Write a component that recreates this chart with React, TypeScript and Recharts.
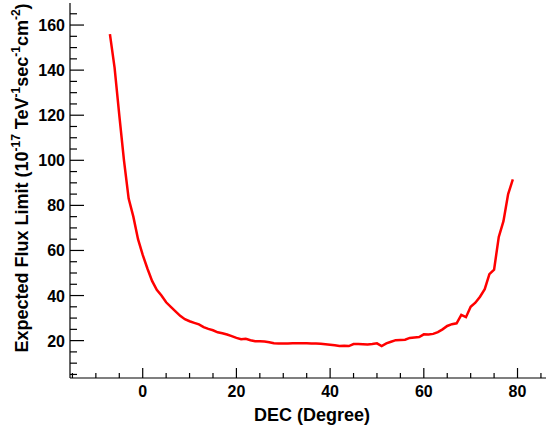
import { LineChart, Line, XAxis, YAxis } from "recharts";

// declination in degrees, expected flux limit (1e-17 TeV^-1 s^-1 cm^-2)
const dec = [
  -7, -6, -5, -4, -3, -2, -1, 0, 1, 2, 3, 4, 5, 6, 7, 8, 9, 10, 11, 12, 13, 14, 15, 16, 17, 18, 19, 20,
  21, 22, 23, 24, 25, 26, 27, 28, 29, 30, 31, 32, 33, 34, 35, 36, 37, 38, 39, 40, 41, 42, 43, 44, 45,
  46, 47, 48, 49, 50, 51, 52, 53, 54, 55, 56, 57, 58, 59, 60, 61, 62, 63, 64, 65, 66, 67, 68, 69, 70,
  71, 72, 73, 74, 75, 76, 77, 78, 79,
];
const flux = [
  156, 141, 120, 100, 83, 75, 65, 58, 52, 46.5, 42.5, 40, 37, 35, 33, 31, 29.5, 28.6, 27.9, 27.2, 26,
  25.2, 24.6, 23.7, 23.3, 22.7, 22, 21.2, 20.6, 20.8, 20.2, 19.7, 19.7, 19.6, 19.3, 18.8, 18.7, 18.7,
  18.7, 18.8, 18.8, 18.8, 18.8, 18.7, 18.7, 18.6, 18.4, 18.2, 17.9, 17.6, 17.7, 17.6, 18.5, 18.5, 18.4,
  18.3, 18.5, 18.8, 17.6, 18.8, 19.5, 20.2, 20.3, 20.4, 21.2, 21.4, 21.6, 22.8, 22.7, 23, 23.8, 25,
  26.5, 27.3, 27.7, 31.4, 30.4, 35, 36.8, 39.5, 42.8, 49.5, 51.5, 66, 73, 85, 91.5,
];

const xTicks = [-15, -10, -5, 0, 5, 10, 15, 20, 25, 30, 35, 40, 45, 50, 55, 60, 65, 70, 75, 80, 85];
const yTicks = [5, 10, 15, 20, 25, 30, 35, 40, 45, 50, 55, 60, 65, 70, 75, 80, 85, 90, 95, 100, 105, 110, 115, 120, 125, 130, 135, 140, 145, 150, 155, 160, 165];

const data = dec.map((d, i) => ({ dec: d, flux: flux[i] }));

const font = "'Liberation Sans', Arial, sans-serif";

function XTick(props: any) {
  const { x, y, payload } = props;
  const v = payload.value;
  const major = v % 20 === 0;
  return (
    <g>
      <line x1={x} x2={x} y1={y} y2={y - (major ? 10 : 5)} stroke="#000" strokeWidth={1.2} />
      {major && (
        <text x={x} y={y + 19} textAnchor="middle" fontFamily={font} fontWeight="bold" fontSize={16} fill="#000">
          {v}
        </text>
      )}
    </g>
  );
}

function YTick(props: any) {
  const { x, y, payload } = props;
  const v = payload.value;
  const major = v % 20 === 0;
  return (
    <g>
      <line x1={x} x2={x + (major ? 14 : 7)} y1={y} y2={y} stroke="#000" strokeWidth={1.2} />
      {major && (
        <text x={x - 5} y={y + 6} textAnchor="end" fontFamily={font} fontWeight="bold" fontSize={16} fill="#000">
          {v}
        </text>
      )}
    </g>
  );
}

function YLabel() {
  return (
    <text
      transform="translate(28,178) rotate(-90)"
      textAnchor="middle"
      fontFamily={font}
      fontWeight="bold"
      fontSize={18}
      fill="#000"
    >
      <tspan>Expected Flux Limit (10</tspan>
      <tspan fontSize={12} dy={-8}>-17</tspan>
      <tspan dy={8}> TeV</tspan>
      <tspan fontSize={12} dy={-8}>-1</tspan>
      <tspan dy={8}>sec</tspan>
      <tspan fontSize={12} dy={-8}>-1</tspan>
      <tspan dy={8}>cm</tspan>
      <tspan fontSize={12} dy={-8}>-2</tspan>
      <tspan dy={8}>)</tspan>
    </text>
  );
}

export default function App() {
  return (
    <div style={{ position: "absolute", left: 0, top: 0, width: 546, height: 430, background: "#fff" }}>
      <LineChart width={546} height={430} data={data} margin={{ top: 3, right: 0, left: 10, bottom: 22 }}>
        <XAxis
          dataKey="dec"
          type="number"
          domain={[-15.52, 86.08]}
          allowDataOverflow
          ticks={xTicks}
          interval={0}
          height={30}
          tickSize={0}
          tickMargin={0}
          tickLine={false}
          axisLine={{ stroke: "#000", strokeWidth: 1.2 }}
          tick={<XTick />}
          label={{
            content: () => (
              <text x={312} y={421} textAnchor="middle" fontFamily={font} fontWeight="bold" fontSize={18} fill="#000">
                DEC (Degree)
              </text>
            ),
          }}
        />
        <XAxis
          xAxisId="top"
          orientation="top"
          dataKey="dec"
          type="number"
          domain={[-15.52, 86.08]}
          height={0}
          tick={false}
          tickLine={false}
          axisLine={{ stroke: "#000", strokeWidth: 1.2 }}
        />
        <YAxis
          type="number"
          domain={[3.42, 169.78]}
          allowDataOverflow
          ticks={yTicks}
          interval={0}
          width={60}
          tickSize={0}
          tickMargin={0}
          tickLine={false}
          axisLine={{ stroke: "#000", strokeWidth: 1.2 }}
          tick={<YTick />}
          label={{ content: () => <YLabel /> }}
        />
        <Line
          type="linear"
          dataKey="flux"
          stroke="#ff0000"
          strokeWidth={2.5}
          dot={false}
          isAnimationActive={false}
        />
      </LineChart>
    </div>
  );
}
